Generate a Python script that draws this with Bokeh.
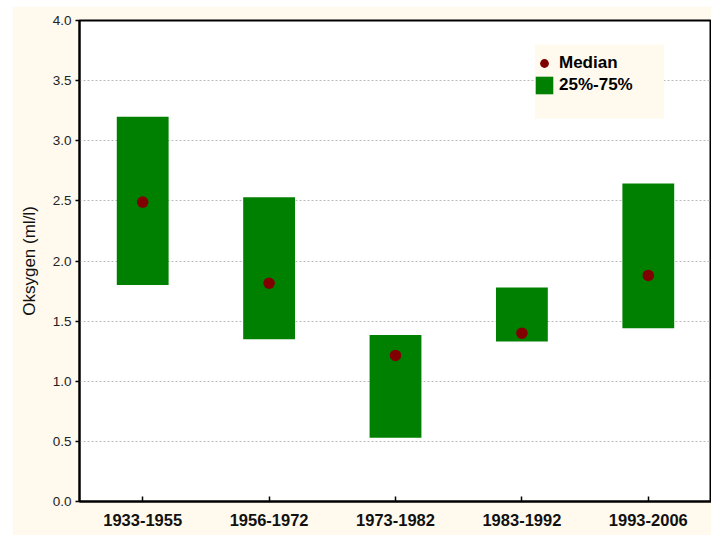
from bokeh.plotting import figure
from bokeh.models import (FactorRange, Range1d, FixedTicker, PrintfTickFormatter,
                          Legend, LegendItem, BoxAnnotation)
from bokeh.embed import file_html
from bokeh.resources import INLINE

# ---- data ----
periods = ["1933-1955", "1956-1972", "1973-1982", "1983-1992", "1993-2006"]
q25 = [1.80, 1.35, 0.53, 1.33, 1.44]
q75 = [3.20, 2.53, 1.385, 1.78, 2.645]
median = [2.49, 1.815, 1.215, 1.40, 1.88]
y_ticks = [0.0, 0.5, 1.0, 1.5, 2.0, 2.5, 3.0, 3.5, 4.0]

FONT = "Liberation Sans"
CREAM = "#FFF9EE"

p = figure(x_range=FactorRange(factors=periods), y_range=Range1d(0, 4),
           width=699, height=529, output_backend="svg", toolbar_location=None,
           min_border_left=67, min_border_right=0, min_border_top=14, min_border_bottom=34,
           background_fill_color="white", border_fill_color=CREAM)
p.margin = (6, 0, 0, 12)

bars = p.vbar(x=periods, bottom=q25, top=q75, width=0.41,
              fill_color="#008000", line_color=None)
dots = p.scatter(x=periods, y=median, size=11.5, fill_color="#800000", line_color=None)

# legend background panel
p.add_layout(BoxAnnotation(left=3.603, right=4.624, bottom=3.185, top=3.80,
                           fill_color=CREAM, fill_alpha=1.0, line_color=None))

legend = Legend(items=[LegendItem(label="Median", renderers=[dots]),
                       LegendItem(label="25%-75%", renderers=[bars])],
                location=(454, 405), padding=4, spacing=0, margin=0,
                glyph_width=22, glyph_height=22, label_standoff=4,
                label_text_font=FONT, label_text_font_size="17px",
                label_text_font_style="bold", label_text_color="black",
                background_fill_alpha=0, border_line_color=None)
p.add_layout(legend)

# axes
p.yaxis.ticker = FixedTicker(ticks=y_ticks)
p.yaxis.formatter = PrintfTickFormatter(format="%.1f")
p.yaxis.major_label_text_font = FONT
p.yaxis.major_label_text_font_size = "13.5px"
p.yaxis.major_label_text_color = "#222222"
p.yaxis.major_tick_out = 4
p.yaxis.major_tick_in = 0
p.yaxis.minor_tick_out = 0
p.yaxis.minor_tick_in = 0
p.yaxis.major_label_standoff = 4
p.yaxis.axis_label = "Oksygen (ml/l)"
p.yaxis.axis_label_text_font = FONT
p.yaxis.axis_label_text_font_size = "17px"
p.yaxis.axis_label_text_font_style = "normal"
p.yaxis.axis_label_text_color = "#111111"
p.yaxis.axis_label_standoff = 11

p.xaxis.major_label_text_font = FONT
p.xaxis.major_label_text_font_size = "16.5px"
p.xaxis.major_label_text_font_style = "bold"
p.xaxis.major_label_text_color = "#111111"
p.xaxis.major_tick_in = 5
p.xaxis.major_tick_out = 0
p.xaxis.major_label_standoff = 12

for ax in (p.xaxis, p.yaxis):
    ax.axis_line_width = 2
    ax.axis_line_color = "black"
    ax.major_tick_line_color = "black"
    ax.major_tick_line_width = 1.5

p.xgrid.grid_line_color = None
p.ygrid.ticker = FixedTicker(ticks=y_ticks)
p.ygrid.grid_line_color = "#bbbbbb"
p.ygrid.grid_line_dash = "2 2"
p.ygrid.grid_line_width = 1

p.outline_line_color = "black"
p.outline_line_width = 2
p.outline_line_alpha = 1.0

open("out.html", "w").write(file_html(p, INLINE))
